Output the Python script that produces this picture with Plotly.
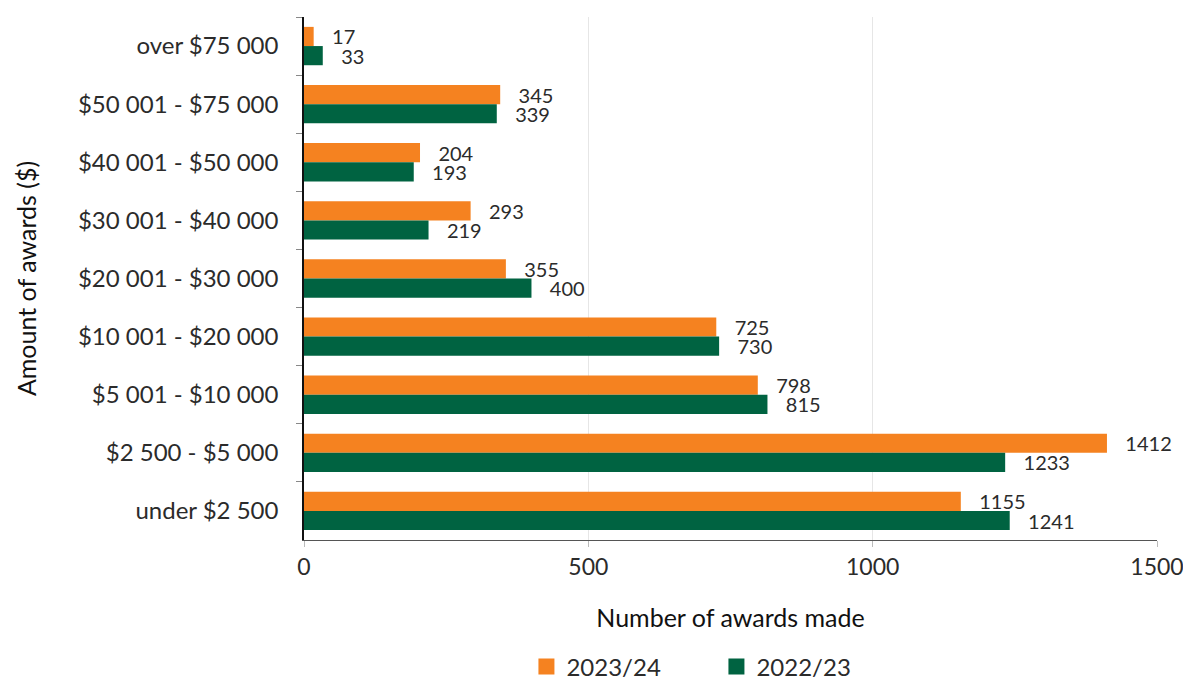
import plotly.graph_objects as go

# Award size bands, listed top-to-bottom as drawn (reversed category axis)
bands = [
    "over $75 000",
    "$50 001 - $75 000",
    "$40 001 - $50 000",
    "$30 001 - $40 000",
    "$20 001 - $30 000",
    "$10 001 - $20 000",
    "$5 001 - $10 000",
    "$2 500 - $5 000",
    "under $2 500",
]
awards_2023_24 = [17, 345, 204, 293, 355, 725, 798, 1412, 1155]
awards_2022_23 = [33, 339, 193, 219, 400, 730, 815, 1233, 1241]

ORANGE = "#F58220"
GREEN = "#006341"
FONT = "Lato"
TXT = "#2b2b2b"
PAD = "\u00a0\u00a0\u00a0"

fig = go.Figure()
for name, vals, col in [("2023/24", awards_2023_24, ORANGE),
                        ("2022/23", awards_2022_23, GREEN)]:
    fig.add_trace(go.Bar(
        y=bands, x=vals, name=name, orientation="h",
        marker=dict(color=col, line=dict(width=0)),
        text=[PAD + str(v) for v in vals], textposition="outside",
        textfont=dict(size=20, color=TXT, family=FONT),
        constraintext="none", cliponaxis=False, showlegend=False,
    ))
    # larger square swatch for the legend
    fig.add_trace(go.Scatter(
        x=[None], y=[None], mode="markers", name=name,
        marker=dict(symbol="square", size=22, color=col),
    ))

fig.update_layout(
    width=1183, height=684,
    margin=dict(l=304, r=26, t=17, b=144, autoexpand=False),
    paper_bgcolor="white", plot_bgcolor="white",
    font=dict(family=FONT, size=24, color=TXT),
    barmode="group", bargap=0.34, bargroupgap=0,
    legend=dict(orientation="h", xref="container", x=0.445, xanchor="left",
                yref="container", y=0.025, yanchor="middle",
                font=dict(size=24, color=TXT), entrywidth=145,
                itemsizing="trace", traceorder="normal"),
)
fig.update_xaxes(
    range=[0, 1500], tickvals=[0, 500, 1000, 1500],
    showgrid=True, gridcolor="#e6e6e6", gridwidth=1,
    showline=True, linecolor="#555555", linewidth=1,
    ticks="outside", ticklen=6, tickcolor="#bbbbbb",
    tickfont=dict(size=23, color=TXT), zeroline=False,
    ticklabeloverflow="allow",
    title=dict(text="Number of awards made", standoff=30,
               font=dict(size=25, color="#111111")),
)
fig.update_yaxes(
    categoryorder="array", categoryarray=bands, autorange="reversed",
    showline=True, linecolor="#111111", linewidth=1.5,
    ticks="outside", ticklen=6, tickcolor="#888888", tickson="boundaries",
    tickfont=dict(size=24, color=TXT), ticklabelstandoff=19,
    title=dict(text="Amount of awards ($)", standoff=34,
               font=dict(size=25, color="#111111")),
)

fig.write_html("out.html")
